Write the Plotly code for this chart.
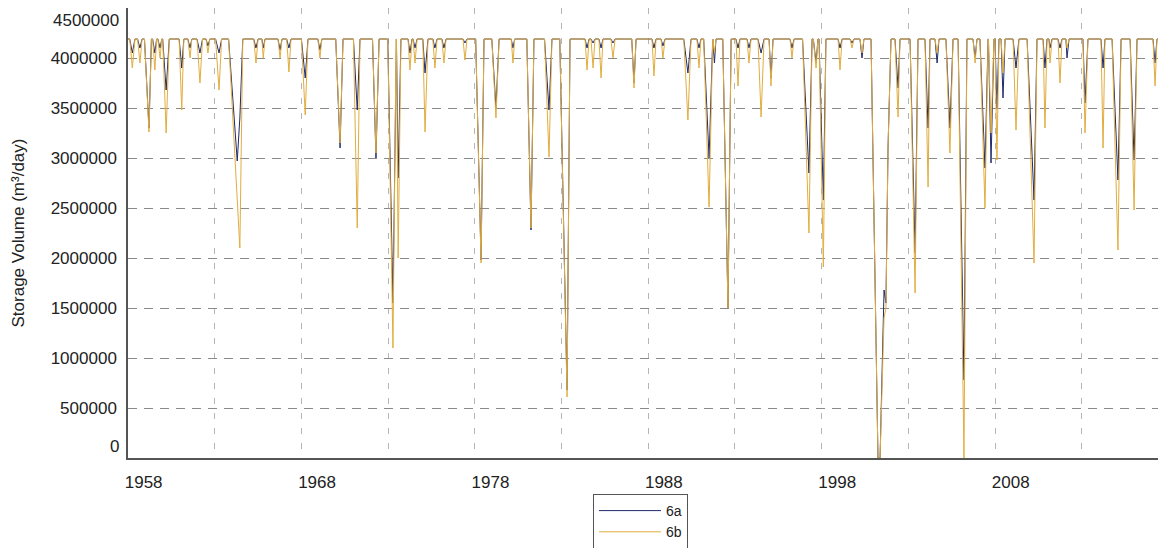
import plotly.graph_objects as go

# ---------------- data ----------------
BASE = 4190000          # full-storage level both runs sit at between droughts
START_YEAR = 1958.0
END_YEAR = 2017.75

# each dip: [start year, low point year(s)..., end year]
dip_years = [
    [1958.10, 1958.25, 1958.40],
    [1958.55, 1958.69, 1958.81],
    [1958.95, 1959.21, 1959.35],
    [1959.42, 1959.55, 1959.65],
    [1959.72, 1959.85, 1959.95],
    [1960.00, 1960.20, 1960.38],
    [1960.95, 1961.10, 1961.22],
    [1961.45, 1961.58, 1961.68],
    [1961.98, 1962.15, 1962.30],
    [1962.50, 1962.61, 1962.72],
    [1963.05, 1963.25, 1963.40],
    [1963.80, 1964.30, 1964.45, 1964.62],
    [1965.25, 1965.38, 1965.50],
    [1965.72, 1965.80, 1965.90],
    [1966.65, 1966.77, 1966.88],
    [1967.15, 1967.28, 1967.40],
    [1968.00, 1968.22, 1968.38],
    [1968.95, 1969.07, 1969.18],
    [1969.98, 1970.23, 1970.40],
    [1971.00, 1971.22, 1971.38],
    [1972.10, 1972.30, 1972.48],
    [1972.98, 1973.28, 1973.46],
    [1973.48, 1973.58, 1973.74],
    [1974.15, 1974.26, 1974.38],
    [1974.44, 1974.55, 1974.67],
    [1975.00, 1975.13, 1975.30],
    [1975.58, 1975.70, 1975.82],
    [1976.10, 1976.22, 1976.34],
    [1977.32, 1977.43, 1977.55],
    [1978.05, 1978.36, 1978.53],
    [1978.98, 1979.22, 1979.40],
    [1980.10, 1980.20, 1980.30],
    [1981.00, 1981.24, 1981.41],
    [1982.02, 1982.28, 1982.45],
    [1982.90, 1983.32, 1983.49],
    [1984.36, 1984.47, 1984.59],
    [1984.70, 1984.82, 1984.93],
    [1985.16, 1985.28, 1985.39],
    [1985.85, 1985.97, 1986.09],
    [1987.05, 1987.18, 1987.30],
    [1988.22, 1988.33, 1988.45],
    [1988.74, 1988.85, 1988.97],
    [1990.05, 1990.29, 1990.47],
    [1990.81, 1990.93, 1991.04],
    [1991.20, 1991.51, 1991.68],
    [1991.72, 1991.82, 1991.91],
    [1992.30, 1992.60, 1992.78],
    [1993.06, 1993.18, 1993.29],
    [1993.70, 1993.81, 1993.93],
    [1994.33, 1994.51, 1994.68],
    [1994.97, 1995.08, 1995.20],
    [1996.18, 1996.29, 1996.41],
    [1996.90, 1997.27, 1997.45],
    [1997.52, 1997.68, 1997.79],
    [1997.85, 1998.10, 1998.25],
    [1998.95, 1999.06, 1999.18],
    [1999.64, 1999.75, 1999.87],
    [2000.21, 2000.33, 2000.44],
    [2000.85, 2001.25, 2001.37, 2001.60, 2001.71, 2001.83, 2002.00],
    [2002.23, 2002.41, 2002.52],
    [2003.10, 2003.39, 2003.56],
    [2003.96, 2004.14, 2004.25],
    [2004.54, 2004.66, 2004.77],
    [2005.17, 2005.40, 2005.58],
    [2005.87, 2006.21, 2006.38],
    [2006.73, 2006.85, 2006.96],
    [2007.13, 2007.42, 2007.60],
    [2007.62, 2007.77, 2007.94],
    [2008.00, 2008.11, 2008.23],
    [2008.35, 2008.46, 2008.58],
    [2009.04, 2009.21, 2009.38],
    [2009.85, 2010.25, 2010.42],
    [2010.77, 2010.88, 2011.00],
    [2011.11, 2011.17, 2011.29],
    [2011.63, 2011.75, 2011.86],
    [2012.09, 2012.15, 2012.27],
    [2013.07, 2013.19, 2013.36],
    [2014.11, 2014.23, 2014.34],
    [2014.75, 2015.09, 2015.27],
    [2015.79, 2016.02, 2016.19],
    [2017.11, 2017.23, 2017.34],
]

# low values (m3/day) at the interior points of each dip, run 6a
low_6a = [
    [4.05e6], [4.10e6], [3.30e6], [4.05e6], [4.10e6], [3.68e6], [3.90e6], [4.10e6],
    [4.05e6], [4.12e6], [4.05e6], [2.97e6, 3.40e6], [4.10e6], [4.10e6], [4.08e6],
    [4.10e6], [3.80e6], [4.08e6], [3.10e6], [3.48e6], [3.00e6], [1.55e6], [2.80e6],
    [4.05e6], [4.10e6], [3.85e6], [4.10e6], [4.10e6], [4.15e6], [1.98e6], [3.50e6],
    [4.10e6], [2.28e6], [3.48e6], [0.68e6], [4.10e6], [4.15e6], [4.10e6], [4.15e6],
    [3.75e6], [4.10e6], [4.12e6], [3.85e6], [4.10e6], [3.00e6], [3.95e6], [1.50e6],
    [4.10e6], [4.10e6], [4.05e6], [3.80e6], [4.10e6], [2.85e6], [3.95e6], [2.58e6],
    [4.10e6], [4.15e6], [4.00e6],
    [0.0, 0.0, 1.68e6, 1.55e6, 3.10e6],
    [3.70e6], [2.05e6], [3.30e6], [3.95e6], [3.30e6], [0.78e6], [4.00e6], [2.90e6],
    [2.95e6], [3.50e6], [3.60e6], [3.90e6], [2.58e6], [3.90e6], [4.10e6], [4.10e6],
    [4.00e6], [3.55e6], [3.90e6], [2.78e6], [2.98e6], [3.95e6],
]

# low values (m3/day) at the interior points of each dip, run 6b
low_6b = [
    [3.90e6], [3.95e6], [3.26e6], [3.88e6], [4.00e6], [3.25e6], [3.48e6], [4.00e6],
    [3.75e6], [4.05e6], [3.68e6], [2.60e6, 2.10e6], [3.95e6], [4.00e6], [4.00e6],
    [3.86e6], [3.43e6], [4.00e6], [3.15e6], [2.30e6], [3.05e6], [1.10e6], [2.00e6],
    [3.88e6], [3.95e6], [3.26e6], [3.90e6], [3.95e6], [3.98e6], [1.95e6], [3.40e6],
    [3.95e6], [2.30e6], [3.01e6], [0.61e6], [3.88e6], [3.90e6], [3.80e6], [4.00e6],
    [3.70e6], [3.82e6], [4.00e6], [3.38e6], [3.90e6], [2.51e6], [4.05e6], [1.50e6],
    [3.72e6], [3.95e6], [3.41e6], [3.72e6], [4.00e6], [2.25e6], [3.90e6], [1.91e6],
    [3.88e6], [4.10e6], [4.05e6],
    [0.0, 0.0, 1.40e6, 1.50e6, 3.10e6],
    [3.41e6], [1.65e6], [2.71e6], [4.05e6], [3.05e6], [0.0], [3.95e6], [2.50e6],
    [3.25e6], [2.98e6], [3.85e6], [3.28e6], [1.95e6], [3.30e6], [3.95e6], [3.75e6],
    [4.10e6], [3.25e6], [3.10e6], [2.08e6], [2.48e6], [3.72e6],
]

series_names = ["6a", "6b"]
series_colors = ["#1f2a6b", "#e2ad3f"]
y_ticks = [500000, 1000000, 1500000, 2000000, 2500000, 3000000, 3500000, 4000000]
x_ticks = [1958, 1968, 1978, 1988, 1998, 2008]


def build(lows):
    xs, ys = [START_YEAR], [BASE]
    for yrs, lv in zip(dip_years, lows):
        xs.extend(yrs)
        ys.extend([BASE] + list(lv) + [BASE])
    xs.append(END_YEAR)
    ys.append(BASE)
    return xs, ys


FONT = "Liberation Sans, Arial, sans-serif"
TICK_SIZE = 17
W, H = 1158, 540   # page body has an 8px margin, so the figure is 8px smaller
fig = go.Figure()
for name, lows, col in zip(series_names, [low_6a, low_6b], series_colors):
    xs, ys = build(lows)
    fig.add_trace(go.Scatter(x=xs, y=ys, mode="lines", name=name,
                             line=dict(color=col, width=1)))

fig.update_layout(
    width=W, height=H,
    margin=dict(l=120, r=0, t=0, b=90, autoexpand=False),
    paper_bgcolor="white", plot_bgcolor="white",
    font=dict(family=FONT, size=16, color="#222"),
    showlegend=True,
    legend=dict(xref="container", yref="container",
                x=585 / W, y=1 - 486 / H, xanchor="left", yanchor="top",
                bordercolor="#555", borderwidth=1, bgcolor="white",
                font=dict(size=14), itemwidth=62, tracegroupgap=0),
)

fig.update_xaxes(
    range=[START_YEAR, 2017.86],
    tickmode="array", tickvals=x_ticks, ticktext=[str(v) for v in x_ticks],
    ticks="", ticklabelposition="outside right", ticklabelstandoff=8,
    ticklabelshift=-4,
    tickfont=dict(size=TICK_SIZE, family=FONT),
    showgrid=True, gridcolor="#b5b5b5", griddash="6px,9px", gridwidth=1,
    minor=dict(tickmode="linear", tick0=1963, dtick=10, showgrid=True,
               gridcolor="#b5b5b5", griddash="6px,9px", gridwidth=1),
    showline=True, linecolor="#555", linewidth=1.5, mirror=True,
    zeroline=False, automargin=False,
)

fig.update_yaxes(
    range=[0, 4500000],
    tickmode="array", tickvals=y_ticks, ticktext=[str(v) for v in y_ticks],
    ticks="", ticklabelstandoff=6,
    tickfont=dict(size=TICK_SIZE, family=FONT),
    showgrid=True, gridcolor="#8a8a8a", griddash="9px,7px", gridwidth=1,
    showline=True, linecolor="#555", linewidth=1.5, mirror=False,
    zeroline=False, automargin=False,
    title=dict(text="Storage Volume (m³/day)", font=dict(size=17, family=FONT),
               standoff=22),
)

# end labels of the y axis sit slightly inside the plot box, as in the source
for val, shift in [(0, 12), (4500000, -12)]:
    fig.add_annotation(x=0, xref="paper", y=val, yref="y", text=str(val),
                       showarrow=False, xanchor="right", xshift=-7, yshift=shift,
                       font=dict(size=TICK_SIZE, family=FONT, color="#222"))

fig.write_html("out.html")
